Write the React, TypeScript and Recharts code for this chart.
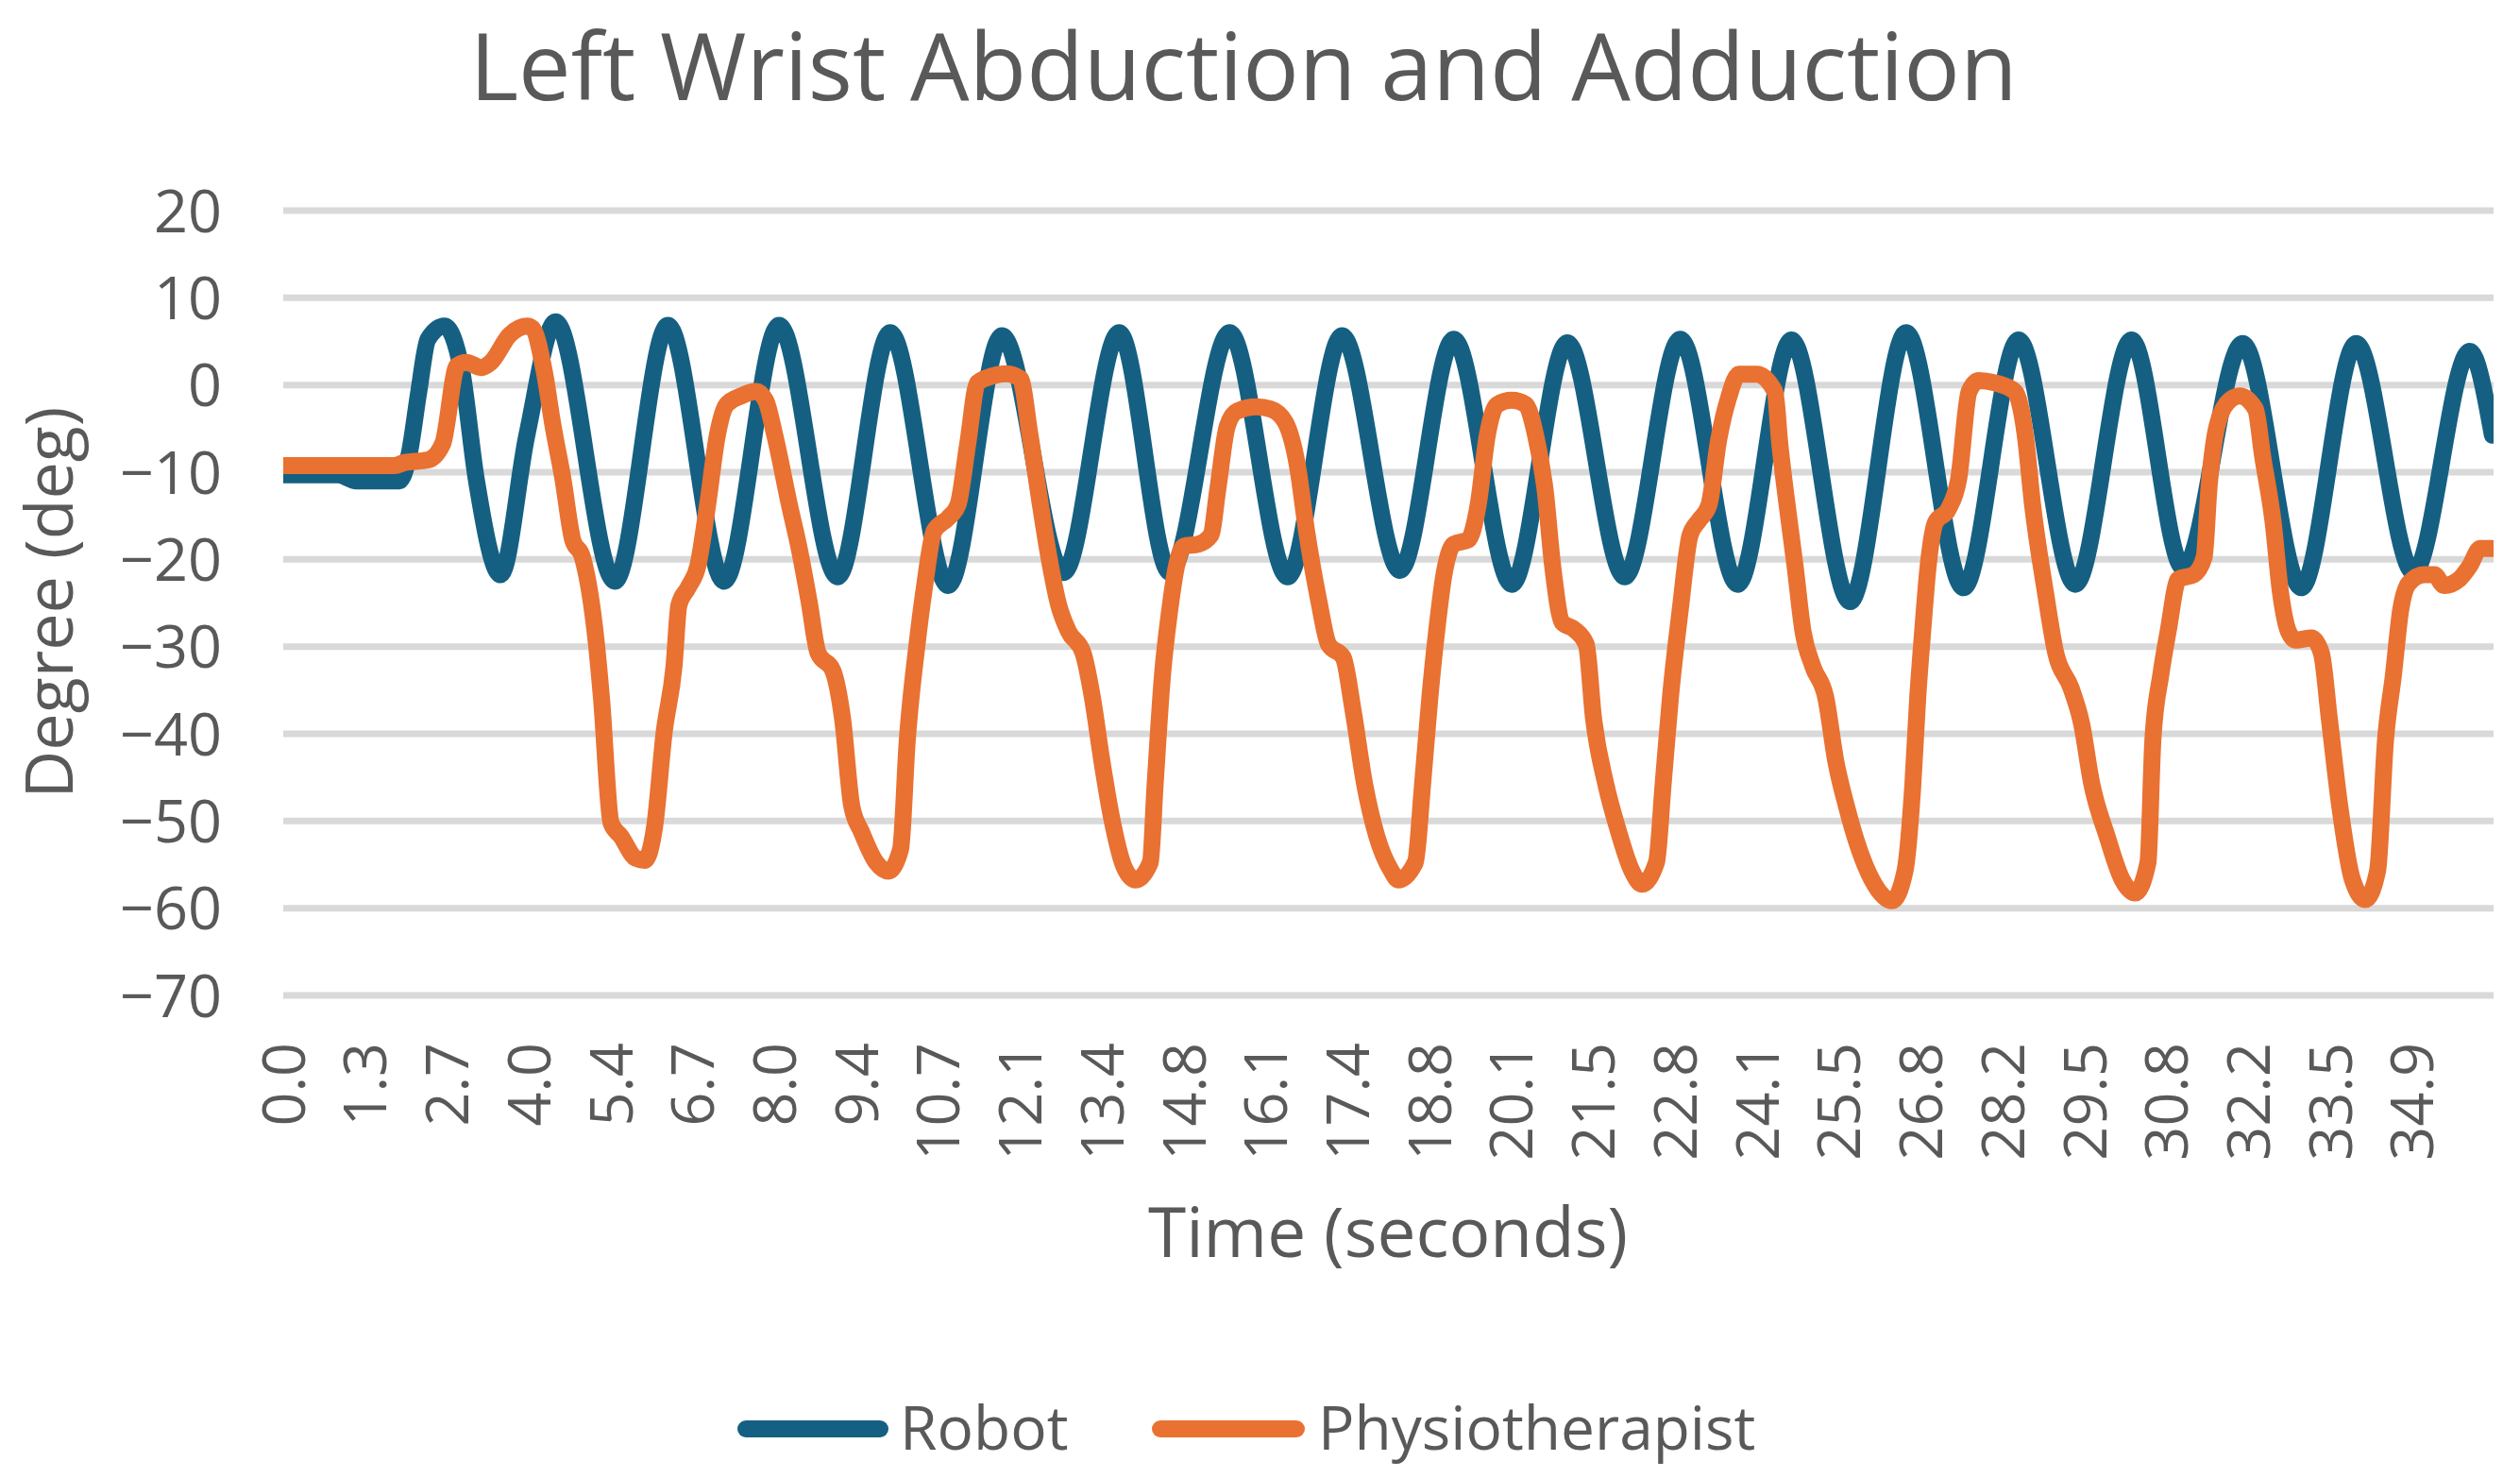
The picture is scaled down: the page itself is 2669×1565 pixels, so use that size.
import React from "react";
import { LineChart, Line, XAxis, YAxis, CartesianGrid } from "recharts";

// Left wrist abduction/adduction: robot vs physiotherapist.
const W = 2669;
const H = 1565;
const FONT = "'Open Sans', sans-serif";
const TEXT = "#595959";
const GRID = "#D9D9D9";
const BLUE = "#156082";
const ORANGE = "#E97132";

const TITLE = "Left Wrist Abduction and Adduction";
const X_TITLE = "Time (seconds)";
const Y_TITLE = "Degree (deg)";
const SERIES = ["Robot", "Physiotherapist"];

const TICK_LABELS = [
  "0.0", "1.3", "2.7", "4.0", "5.4", "6.7", "8.0", "9.4", "10.7", "12.1", "13.4", "14.8", "16.1", "17.4",
  "18.8", "20.1", "21.5", "22.8", "24.1", "25.5", "26.8", "28.2", "29.5", "30.8", "32.2", "33.5", "34.9",
];
const TICK_STEP = 1.341;
const Y_TICKS = [20, 10, 0, -10, -20, -30, -40, -50, -60, -70];

const ROBOT_T = [
  0, 0.9, 1.2, 1.9, 2.06, 2.22, 2.37, 2.64, 2.92, 3.16, 3.56, 3.99, 4.46, 5.43, 6.3, 7.22, 8.12, 9.08,
  9.94, 10.89, 11.77, 12.78, 13.69, 14.52, 15.5, 16.45, 17.34, 18.29, 19.17, 20.12, 21.03, 21.97, 22.88,
  23.82, 24.7, 25.66, 26.58, 27.52, 28.42, 29.35, 30.27, 31.12, 32.09, 33.05, 33.95, 34.89, 35.81, 36.18,
];
const ROBOT_V = [
  -10.3, -10.3, -11, -11, -8, -0.75, 5.25, 6.75, 1.75, -10.75, -21.75, -5.75, 7.25, -22.5, 6.85, -22.5,
  6.85, -22, 6, -23, 5.65, -21.5, 6, -21.5, 6, -22, 5.65, -21.25, 5.25, -22.85, 4.85, -22, 5.25, -22.85,
  5.15, -24.85, 6, -23.25, 5.15, -22.85, 5.15, -21, 4.75, -23.25, 4.75, -21.5, 3.85, -5.75,
];

const PHYSIO_T = [
  0, 1.82, 1.98, 2.37, 2.61, 2.85, 3.0, 3.24, 3.4, 3.71, 3.99, 4.08, 4.27, 4.42, 4.58, 4.74, 4.9, 5.13,
  5.21, 5.37, 5.53, 5.77, 5.92, 6.08, 6.24, 6.4, 6.48, 6.63, 6.79, 6.95, 7.11, 7.26, 7.5, 7.74, 7.9, 8.05,
  8.29, 8.45, 8.61, 8.76, 9.0, 9.16, 9.31, 9.47, 9.71, 9.91, 10.11, 10.22, 10.38, 10.5, 10.66, 10.89,
  11.05, 11.21, 11.37, 11.6, 11.84, 12.07, 12.23, 12.39, 12.54, 12.7, 12.86, 13.1, 13.25, 13.41, 13.57,
  13.77, 13.96, 14.2, 14.28, 14.4, 14.52, 14.63, 14.75, 14.99, 15.19, 15.31, 15.46, 15.62, 15.94, 16.17,
  16.41, 16.61, 16.76, 16.96, 17.12, 17.36, 17.52, 17.71, 17.91, 18.15, 18.26, 18.54, 18.66, 18.78, 18.89,
  19.01, 19.17, 19.41, 19.57, 19.72, 19.88, 20.12, 20.35, 20.51, 20.67, 20.79, 20.95, 21.14, 21.34, 21.46,
  21.66, 21.85, 22.09, 22.25, 22.49, 22.6, 22.72, 22.88, 23.04, 23.19, 23.35, 23.51, 23.67, 23.84, 24.13,
  24.43, 24.51, 24.63, 24.76, 24.89, 25.05, 25.26, 25.43, 25.6, 25.81, 26.02, 26.35, 26.56, 26.69, 26.77,
  26.85, 26.94, 27.06, 27.27, 27.44, 27.61, 27.77, 28.03, 28.36, 28.53, 28.65, 28.86, 29.03, 29.28, 29.45,
  29.62, 29.87, 30.12, 30.33, 30.54, 30.62, 30.75, 30.87, 31.04, 31.29, 31.46, 31.54, 31.67, 31.88, 32.04,
  32.3, 32.42, 32.59, 32.71, 32.84, 32.96, 33.22, 33.38, 33.51, 33.68, 33.89, 34.1, 34.3, 34.43, 34.56,
  34.68, 34.81, 35.06, 35.23, 35.39, 35.64, 35.81, 35.98, 36.18,
];
const PHYSIO_V = [
  -9.25, -9.25, -8.9, -8.6, -6.75, 2.25, 2.6, 2.0, 2.6, 5.75, 6.75, 6.5, 1.75, -4.75, -10.75, -17.75,
  -19.75, -29.75, -35.75, -50.25, -51.75, -54.25, -54.5, -50.75, -39.75, -32.25, -25.25, -23.25, -20.75,
  -13.75, -5.75, -2.25, -1.25, -0.75, -1.75, -5.75, -13.75, -18.75, -24.75, -30.75, -32.75, -38.25, -48.25,
  -51.25, -54.75, -55.75, -53.25, -40.75, -29.75, -23.25, -16.75, -15.25, -13.75, -6.75, 0.25, 1.0, 1.3,
  0.75, -5.75, -13.25, -19.75, -25.25, -28.25, -30.75, -35.75, -43.25, -49.75, -55.25, -56.75, -54.75,
  -45.75, -33.25, -25.75, -20.75, -18.5, -18.25, -17.25, -11.75, -4.75, -3.0, -2.5, -2.75, -4.25, -9.25,
  -16.75, -24.75, -29.75, -31.25, -37.25, -45.75, -51.75, -55.75, -56.75, -54.75, -45.75, -35.75, -28.25,
  -21.75, -18.25, -17.75, -13.75, -5.75, -2.25, -1.75, -2.25, -5.75, -12.25, -20.75, -27.25, -28.0, -29.75,
  -38.25, -45.75, -50.75, -55.75, -57.25, -54.75, -45.75, -35.75, -25.75, -17.25, -15.5, -13.75, -6.25,
  -1.5, 1.25, 1.25, -0.75, -6.75, -13.75, -20.75, -28.25, -32.25, -35.75, -43.25, -48.25, -53.25, -56.75,
  -59.15, -55.75, -45.75, -35.75, -28.25, -20.75, -15.75, -14.25, -10.75, -0.75, 0.5, 0.25, -0.75, -5.75,
  -13.75, -23.75, -30.75, -34.75, -38.75, -45.75, -51.75, -56.75, -58.25, -54.75, -40.75, -33.25, -28.25,
  -22.25, -21.75, -19.75, -11.75, -4.75, -1.75, -1.25, -2.75, -8.25, -15.75, -23.75, -28.25, -29.25, -29.0,
  -30.75, -38.25, -48.25, -56.75, -59.0, -55.75, -40.75, -33.25, -25.75, -22.75, -21.75, -21.75, -23.0,
  -22.25, -20.75, -18.75, -18.75,
];

const robotData = ROBOT_T.map((t, i) => ({ t, v: ROBOT_V[i] }));
const physioData = PHYSIO_T.map((t, i) => ({ t, v: PHYSIO_V[i] }));
const xTicks = TICK_LABELS.map((_, i) => i * TICK_STEP);

const fmtY = (v: number) => (v < 0 ? `\u2212${Math.abs(v)}` : `${v}`);

// eslint-disable-next-line @typescript-eslint/no-explicit-any
const XTick = (props: any) => {
  const { x, y, payload } = props;
  const label = TICK_LABELS[Math.round(payload.value / TICK_STEP)];
  return (
    <text
      x={x}
      y={y}
      transform={`rotate(-90 ${x} ${y})`}
      textAnchor="end"
      dy="0.36em"
      fill={TEXT}
      fontSize={63}
      fontFamily={FONT}
    >
      {label}
    </text>
  );
};

// eslint-disable-next-line @typescript-eslint/no-explicit-any
const YTick = (props: any) => {
  const { x, y, payload } = props;
  return (
    <text x={x} y={y} dy="0.36em" textAnchor="end" fill={TEXT} fontSize={63} fontFamily={FONT}>
      {fmtY(payload.value)}
    </text>
  );
};

export default function App() {
  return (
    <div style={{ position: "absolute", left: 0, top: 0, width: W, height: H, background: "#fff" }}>
      <LineChart width={W} height={H} margin={{ top: 223, right: 28, bottom: 311, left: 100 }}>
        <CartesianGrid vertical={false} stroke={GRID} strokeWidth={7} />
        <XAxis
          type="number"
          dataKey="t"
          domain={[0, 36.2]}
          allowDataOverflow
          ticks={xTicks}
          interval={0}
          height={200}
          tickLine={false}
          axisLine={false}
          tickSize={0}
          tickMargin={50}
          tick={XTick}
        />
        <YAxis
          type="number"
          domain={[-70, 20]}
          ticks={Y_TICKS}
          interval={0}
          width={200}
          tickLine={false}
          axisLine={false}
          tickSize={0}
          tickMargin={65}
          tick={YTick}
        />
        <Line
          data={robotData}
          dataKey="v"
          name={SERIES[0]}
          type="monotone"
          stroke={BLUE}
          strokeWidth={18}
          strokeLinecap="round"
          strokeLinejoin="round"
          dot={false}
          activeDot={false}
          isAnimationActive={false}
        />
        <Line
          data={physioData}
          dataKey="v"
          name={SERIES[1]}
          type="monotone"
          stroke={ORANGE}
          strokeWidth={18}
          strokeLinecap="round"
          strokeLinejoin="round"
          dot={false}
          activeDot={false}
          isAnimationActive={false}
        />
      </LineChart>
      <svg
        width={W}
        height={H}
        style={{ position: "absolute", left: 0, top: 0, pointerEvents: "none" }}
        fontFamily={FONT}
        fill={TEXT}
      >
        <text x={1317} y={106} textAnchor="middle" fontSize={99}>
          {TITLE}
        </text>
        <text transform="translate(77 638) rotate(-90)" textAnchor="middle" fontSize={70}>
          {Y_TITLE}
        </text>
        <text x={1470} y={1331} textAnchor="middle" fontSize={73}>
          {X_TITLE}
        </text>
        <line x1={790} x2={932} y1={1513} y2={1513} stroke={BLUE} strokeWidth={18} strokeLinecap="round" />
        <text x={953} y={1535} fontSize={64}>
          {SERIES[0]}
        </text>
        <line x1={1229} x2={1373} y1={1513} y2={1513} stroke={ORANGE} strokeWidth={18} strokeLinecap="round" />
        <text x={1396} y={1535} fontSize={64}>
          {SERIES[1]}
        </text>
      </svg>
    </div>
  );
}
